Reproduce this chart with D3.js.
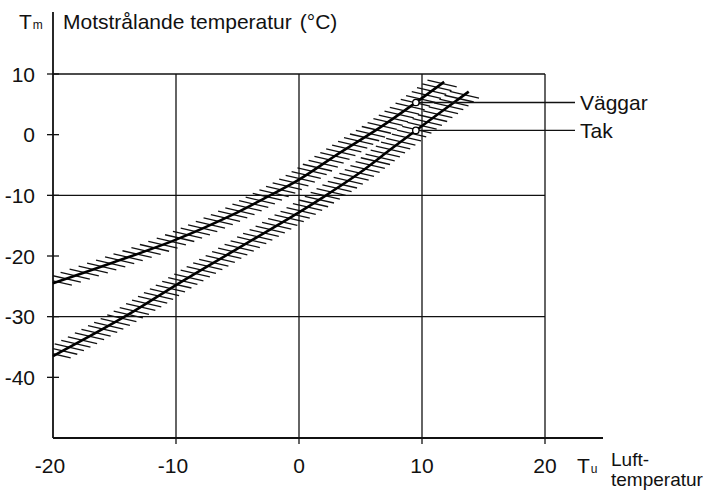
<!DOCTYPE html>
<html>
<head>
<meta charset="utf-8">
<script src="https://cdn.jsdelivr.net/npm/d3@7"></script>
<style>
  body { margin: 0; background: #fff; }
  svg { font-family: "Liberation Sans", Arial, Helvetica, sans-serif; }
  .grid { stroke: #111; stroke-width: 1.3; fill: none; }
  .axis-line { stroke: #111; stroke-width: 1.8; fill: none; }
  .curve { stroke: #000; stroke-width: 2.6; fill: none; }
  .hatch { stroke: #111; stroke-width: 1.3; }
  .lbl { font-size: 21px; fill: #111; }
  .lbl-s { font-size: 19px; fill: #111; }
  .sub { font-size: 12px; fill: #111; }
</style>
</head>
<body>
<div class="container"></div>
<script>
// ---------- DATA ----------
var xTicks = [-20, -10, 0, 10, 20];
var yTicks = [10, 0, -10, -20, -30, -40];
var xGrid = [-10, 0, 10, 20];
var yGrid = [10, -10, -30];

// Väggar (walls)
var vaggarTu = [-20, -15, -10, -5, -3, 0, 3, 6.6, 9.5, 11.8];
var vaggarTm = [-24.5, -21.0, -17.3, -12.8, -10.7, -7.4, -3.4, 1.2, 5.3, 8.7];
// Tak (ceiling)
var takTu = [-20, -14, -10, -5, 0, 2.2, 5, 7.4, 9.5, 13.8];
var takTm = [-36.5, -29.8, -24.8, -18.8, -12.8, -10, -6.2, -2.5, 0.7, 7.1];

var seriesNames = ["Väggar", "Tak"];
var markerTu = [9.5, 9.5];
var markerTm = [5.3, 0.7];

var width = 721,
    height = 490;

var x = d3.scaleLinear().domain([-20, 20]).range([53, 545]);
var y = d3.scaleLinear().domain([-50, 10]).range([438, 74]);

var svg = d3.select(".container").append("svg")
    .attr("width", width)
    .attr("height", height);

svg.append("defs").append("clipPath")
    .attr("id", "plot-clip")
  .append("rect")
    .attr("x", x(-20))
    .attr("y", 0)
    .attr("width", 560)
    .attr("height", y(-50));

// ---------- GRID ----------
svg.selectAll(".vgrid")
  .data(xGrid)
  .enter().append("line")
    .attr("class", "grid")
    .attr("x1", function(d) { return x(d); })
    .attr("x2", function(d) { return x(d); })
    .attr("y1", y(10))
    .attr("y2", y(-50) + 6);

svg.selectAll(".hgrid")
  .data(yGrid)
  .enter().append("line")
    .attr("class", "grid")
    .attr("x1", x(-20))
    .attr("x2", x(20))
    .attr("y1", function(d) { return y(d); })
    .attr("y2", function(d) { return y(d); });

// y ticks cross the axis
svg.selectAll(".ytick")
  .data(yTicks)
  .enter().append("line")
    .attr("class", "grid")
    .attr("x1", x(-20) - 6)
    .attr("x2", x(-20) + 6)
    .attr("y1", function(d) { return y(d); })
    .attr("y2", function(d) { return y(d); });

// axes
svg.append("line")
    .attr("class", "axis-line")
    .attr("x1", x(-20)).attr("x2", x(-20))
    .attr("y1", 12).attr("y2", y(-50));
svg.append("line")
    .attr("class", "axis-line")
    .attr("x1", x(-20)).attr("x2", 603)
    .attr("y1", y(-50)).attr("y2", y(-50));

// tick labels
svg.selectAll(".ylab")
  .data(yTicks)
  .enter().append("text")
    .attr("class", "lbl")
    .attr("x", 35)
    .attr("y", function(d) { return y(d); })
    .attr("dy", "0.36em")
    .attr("text-anchor", "end")
    .text(function(d) { return d; });

svg.selectAll(".xlab")
  .data(xTicks)
  .enter().append("text")
    .attr("class", "lbl")
    .attr("x", function(d) { return x(d) - (d < 0 ? 3 : 0); })
    .attr("y", 473)
    .attr("text-anchor", "middle")
    .text(function(d) { return d; });

// axis titles
var tm = svg.append("text").attr("x", 19).attr("y", 29);
tm.append("tspan").attr("class", "lbl").text("T");
tm.append("tspan").attr("class", "sub").attr("dx", 1).text("m");
var title = svg.append("text")
    .attr("class", "lbl")
    .attr("x", 63).attr("y", 29);
title.append("tspan").text("Motstrålande temperatur");
title.append("tspan").attr("dx", 8).text("(°C)");

var tu = svg.append("text").attr("x", 577).attr("y", 473);
tu.append("tspan").attr("class", "lbl").text("T");
tu.append("tspan").attr("class", "sub").attr("dx", 1).text("u");
svg.append("text").attr("class", "lbl-s").attr("x", 611).attr("y", 466).text("Luft-");
svg.append("text").attr("class", "lbl-s").attr("x", 611).attr("y", 486).text("temperatur");

// ---------- CURVES + HATCHING ----------
var line = d3.line()
    .x(function(d) { return x(d[0]); })
    .y(function(d) { return y(d[1]); })
    .curve(d3.curveCatmullRom.alpha(0.5));

var hatchAngle = 13 * Math.PI / 180,
    hatchGap = 5.0,
    hatchLen = 30;

function drawCurve(tu, tm) {
  var pts = tu.map(function(d, i) { return [d, tm[i]]; });
  var path = svg.append("path")
    .datum(pts)
    .attr("class", "curve")
    .attr("d", line);

  // walk along the path and drop a hatch every hatchGap (perpendicular distance)
  var node = path.node(),
      total = node.getTotalLength(),
      step = 0.5,
      acc = hatchGap / 2,
      hatches = [];
  for (var s = 0; s <= total; s += step) {
    var p = node.getPointAtLength(s),
        q = node.getPointAtLength(Math.min(total, s + 1)),
        r = node.getPointAtLength(Math.max(0, s - 1));
    var phi = Math.atan2(r.y - q.y, q.x - r.x); // rising angle
    acc += step * Math.abs(Math.sin(phi + hatchAngle));
    if (acc >= hatchGap) {
      acc -= hatchGap;
      hatches.push({ x: p.x, y: p.y });
    }
  }

  svg.append("g")
    .attr("clip-path", "url(#plot-clip)")
    .selectAll("line")
    .data(hatches)
    .enter().append("line")
      .attr("class", "hatch")
      .attr("x1", function(d) { return d.x - Math.cos(hatchAngle) * hatchLen / 2; })
      .attr("y1", function(d) { return d.y - Math.sin(hatchAngle) * hatchLen / 2; })
      .attr("x2", function(d) { return d.x + Math.cos(hatchAngle) * hatchLen / 2; })
      .attr("y2", function(d) { return d.y + Math.sin(hatchAngle) * hatchLen / 2; });

  path.raise();
}

drawCurve(vaggarTu, vaggarTm);
drawCurve(takTu, takTm);

// ---------- LEADERS ----------
seriesNames.forEach(function(name, i) {
  var cx = x(markerTu[i]), cy = y(markerTm[i]);
  svg.append("line")
    .attr("class", "grid")
    .attr("x1", cx + 3).attr("x2", 575)
    .attr("y1", cy).attr("y2", cy);
  svg.append("circle")
    .attr("cx", cx).attr("cy", cy).attr("r", 3.2)
    .attr("fill", "#fff")
    .attr("stroke", "#000")
    .attr("stroke-width", 1.3);
  svg.append("text")
    .attr("class", "lbl")
    .attr("x", 580).attr("y", cy)
    .attr("dy", "0.36em")
    .text(name);
});
</script>
</body>
</html>
